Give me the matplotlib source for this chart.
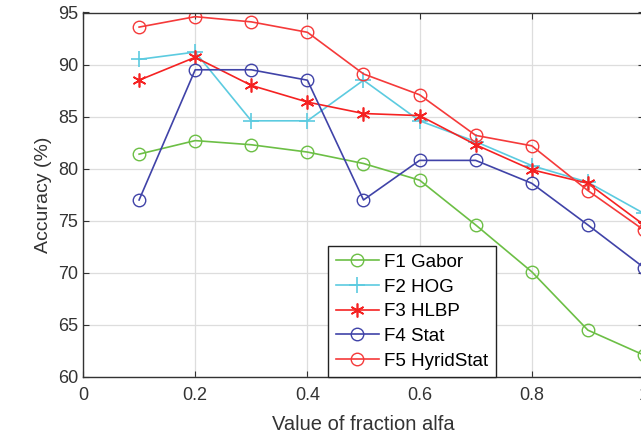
import matplotlib
matplotlib.use("Agg")
import matplotlib.pyplot as plt

plt.rcParams['font.family'] = ['Liberation Sans', 'DejaVu Sans']

alfa = [0.1, 0.2, 0.3, 0.4, 0.5, 0.6, 0.7, 0.8, 0.9, 1.0]
f1_gabor = [81.4, 82.7, 82.3, 81.6, 80.5, 78.9, 74.6, 70.1, 64.5, 62.1]
f2_hog = [90.5, 91.2, 84.6, 84.6, 88.5, 84.6, 82.6, 80.3, 78.7, 75.7]
f3_hlbp = [88.5, 90.7, 88.0, 86.4, 85.3, 85.1, 82.3, 79.9, 78.6, 74.6]
f4_stat = [77.0, 89.5, 89.5, 88.5, 77.0, 80.8, 80.8, 78.6, 74.6, 70.5]
f5_hyrid = [93.6, 94.6, 94.1, 93.1, 89.1, 87.1, 83.2, 82.2, 77.9, 74.1]

fig = plt.figure(figsize=(6.41, 4.46), dpi=100)
ax = fig.add_axes([83/641, 69/446, 561/641, 364.5/446])

asterisk = (6, 2, 0)
ax.plot(alfa, f1_gabor, color='#6cbf45', marker='o', mfc='none', ms=9, lw=1.2, label='F1 Gabor')
ax.plot(alfa, f2_hog, color='#5ccbe0', marker='+', ms=11, mew=1.2, lw=1.2, label='F2 HOG')
ax.plot(alfa, f3_hlbp, color='#f52222', marker=asterisk, ms=10, mew=1.2, lw=1.2, label='F3 HLBP')
ax.plot(alfa, f4_stat, color='#4043a8', marker='o', mfc='none', ms=9, lw=1.2, label='F4 Stat')
ax.plot(alfa, f5_hyrid, color='#f53a3a', marker='o', mfc='none', ms=9, lw=1.2, label='F5 HyridStat')

ax.set_xlim(0, 1)
ax.set_ylim(60, 95)
ax.set_xticks([0, 0.2, 0.4, 0.6, 0.8, 1])
ax.set_xticklabels(['0', '0.2', '0.4', '0.6', '0.8', '1'])
ax.set_yticks(range(60, 96, 5))
ax.tick_params(direction='in', top=True, right=True, labelsize=13, colors='#333333', length=4)
ax.tick_params(axis='x', pad=7)
ax.grid(True, color='#dddddd', lw=0.9)
ax.set_axisbelow(True)
for s in ax.spines.values():
    s.set_color('#333333')
    s.set_linewidth(1.0)

ax.set_xlabel('Value of fraction alfa', fontsize=14.5, color='#333333', labelpad=8)
ax.set_ylabel('Accuracy (%)', fontsize=14, color='#333333', labelpad=4)

leg = ax.legend(loc='lower left', bbox_to_anchor=(0.437, 0.0), fontsize=13.5,
                frameon=True, fancybox=False, edgecolor='#222222', framealpha=1,
                borderaxespad=0, handlelength=2.3, labelspacing=0.4, borderpad=0.4,
                handletextpad=0.3)
leg.get_frame().set_linewidth(1.0)

fig.savefig('out.png', dpi=100)
